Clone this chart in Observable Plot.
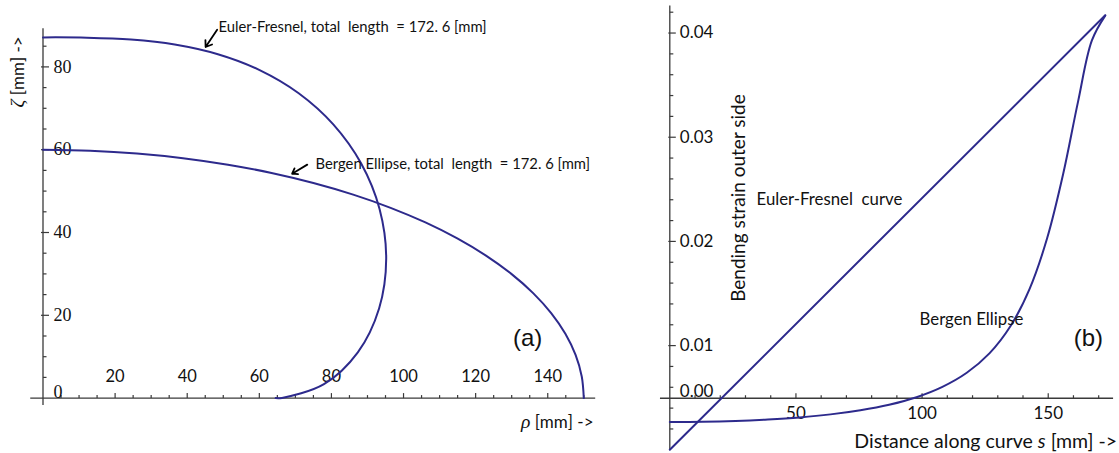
<!DOCTYPE html>
<html><head><meta charset="utf-8">
<script src="https://cdn.jsdelivr.net/npm/d3@7"></script>
<script src="https://cdn.jsdelivr.net/npm/@observablehq/plot@0.6"></script>
<style>
body{margin:0;background:#fff;}
#wrap{position:relative;width:1119px;height:453px;overflow:hidden;background:#fff;}
#pa{position:absolute;left:0;top:0;}
#pb{position:absolute;left:620px;top:0;}
svg text{white-space:pre;}
</style></head><body><div id="wrap"><div id="pa"></div><div id="pb"></div></div>
<script>
// ---------- Panel (a): curve shapes ----------
const eulerRho  = [0, 12.20, 24.40, 36.54, 48.51, 60.09, 70.92, 80.51, 88.22, 93.35, 95.19, 93.22, 87.32, 77.93, 66.28, 64.54];
const eulerZeta = [87.13, 87.07, 86.62, 85.41, 83.06, 79.23, 73.64, 66.12, 56.71, 45.66, 33.64, 21.65, 11.05, 3.36, 0.05, 0];
const bergenRho  = [0, 13.07, 26.05, 38.82, 51.30, 63.39, 75.0, 86.04, 96.42, 106.07, 114.91, 122.87, 129.90, 135.95, 140.95, 144.89, 147.72, 149.43, 150];
const bergenZeta = [60, 59.77, 59.09, 57.96, 56.38, 54.38, 51.96, 49.15, 45.96, 42.43, 38.57, 34.41, 30.0, 25.36, 20.52, 15.53, 10.42, 5.23, 0];

const xMajorA = [20, 40, 60, 80, 100, 120, 140];
const xMajorLabelsA = ["20", "40", "60", "80", "100", "120", "140"];
const xMinorA = [5, 10, 15, 25, 30, 35, 45, 50, 55, 65, 70, 75, 85, 90, 95, 105, 110, 115, 125, 130, 135, 145, 150];
const yMajorA = [20, 40, 60, 80];
const yMajorLabelsA = ["20", "40", "60", "80"];
const yMinorA = [5, 10, 15, 25, 30, 35, 45, 50, 55, 65, 70, 75, 85];
const xAxisExtentA = [-3.4, 153.3];
const yAxisExtentA = [-1.8, 89.2];

const annTextA = ["Euler-Fresnel, total  length  = 172. 6 [mm]", "Bergen Ellipse, total  length  = 172. 6 [mm]"];
const annXA = [48.7, 75.6];
const annYA = [89.6, 56.4];
const arrowX1A = [48.3, 73.3];
const arrowY1A = [89.0, 56.4];
const arrowX2A = [45.1, 69.1];
const arrowY2A = [84.8, 54.2];

// ---------- Panel (b): bending strain vs arc length ----------
const eulerS = [0, 172.6];
const eulerStrain = [0, 0.0417];
const bergenS = [0, 13.07, 26.06, 38.87, 51.45, 63.70, 75.55, 86.93, 97.79, 108.06, 117.71, 126.69, 135.00, 142.62, 149.59, 155.96, 161.82, 167.31, 172.60];
const bergenStrain = [0.00267, 0.00269, 0.00277, 0.00291, 0.00311, 0.00340, 0.00380, 0.00433, 0.00505, 0.00604, 0.00739, 0.00925, 0.01185, 0.01545, 0.02032, 0.02651, 0.03342, 0.03929, 0.04167];

const xMajorB = [50, 100, 150];
const xMajorLabelsB = ["50", "100", "150"];
const xMinorB = [10, 20, 30, 40, 60, 70, 80, 90, 110, 120, 130, 140, 160, 170];
const yMajorB = [0.01, 0.02, 0.03, 0.04];
const yMajorLabelsB = ["0.01", "0.02", "0.03", "0.04"];
const yMinorB = [0.002, 0.004, 0.006, 0.008, 0.012, 0.014, 0.016, 0.018, 0.022, 0.024, 0.026, 0.028, 0.032, 0.034, 0.036, 0.038, 0.042];
const xAxisLevelB = 0.00495;
const xAxisLabelB = "0.00";
const xAxisExtentB = [-3.7, 175.9];
const yAxisExtentB = [0, 0.0426];

const annTextB = ["Euler-Fresnel  curve", "Bergen Ellipse"];
const annXB = [34.4, 99.0];
const annYB = [0.0240, 0.0125];

// ---------- styling ----------
const axisColor = "#3a3a3a";
const curveColor = "#2d2a8c";
const sans = "Lato, 'Open Sans', sans-serif";
const serif = "'Liberation Serif', 'DejaVu Serif', serif";
const seg = (x1, y1, x2, y2) => ({draw(ctx) { ctx.moveTo(x1, y1); ctx.lineTo(x2, y2); }});
const tickStyle = {stroke: axisColor, fill: "none", strokeWidth: 1.2};

function italicParts(svg) {
  d3.select(svg).selectAll("text").each(function() {
    const t = this.textContent;
    if (!t.includes("|")) return;
    const parts = t.split("|");
    const sel = d3.select(this);
    sel.text(null);
    parts.forEach((p, i) => {
      const ts = sel.append("tspan").text(p);
      if (i % 2) {
        ts.attr("font-style", "italic");
        if (/[ρζ]/.test(p)) ts.attr("font-family", serif).attr("font-size", "1.15em");
      }
    });
  });
}

// ---------- Panel (a) ----------
const dataEulerA = eulerRho.map((x, i) => ({x, y: eulerZeta[i]}));
const dataBergenA = bergenRho.map((x, i) => ({x, y: bergenZeta[i]}));
const annA = annTextA.map((t, i) => ({t, x: annXA[i], y: annYA[i], x1: arrowX1A[i], y1: arrowY1A[i], x2: arrowX2A[i], y2: arrowY2A[i]}));

const plotA = Plot.plot({
  width: 620, height: 453,
  marginLeft: 42.5, marginRight: 36.7, marginTop: 25, marginBottom: 55.4,
  x: {domain: [0, 150], axis: null},
  y: {domain: [0, 90], axis: null},
  style: {fontFamily: sans, background: "white"},
  marks: [
    Plot.ruleY([0], {x1: () => xAxisExtentA[0], x2: () => xAxisExtentA[1], stroke: axisColor, strokeWidth: 1.3}),
    Plot.ruleX([0], {y1: () => yAxisExtentA[0], y2: () => yAxisExtentA[1], stroke: axisColor, strokeWidth: 1.3}),
    Plot.dot(xMajorA, {x: d => d, y: () => 0, symbol: seg(0, 0, 0, -5), ...tickStyle}),
    Plot.dot(xMinorA, {x: d => d, y: () => 0, symbol: seg(0, 0, 0, -3), ...tickStyle}),
    Plot.dot(yMajorA, {x: () => 0, y: d => d, symbol: seg(-2, 0, 6, 0), ...tickStyle}),
    Plot.dot(yMinorA, {x: () => 0, y: d => d, symbol: seg(0, 0, 3.5, 0), ...tickStyle}),
    Plot.text(xMajorA, {x: d => d, y: () => 0, text: (d, i) => xMajorLabelsA[i], dy: -21, fontSize: 16.5, fill: "#111", fontFamily: sans}),
    Plot.text(yMajorA, {x: () => 0, y: d => d, text: (d, i) => yMajorLabelsA[i], dx: 10.5, textAnchor: "start", fontSize: 18, fill: "#111", fontFamily: serif}),
    Plot.text(["0"], {x: () => 0, y: () => 0, text: d => d, dx: 10.5, dy: -6, textAnchor: "start", fontSize: 18, fill: "#111", fontFamily: serif}),
    Plot.line(dataEulerA, {x: "x", y: "y", curve: "catmull-rom", stroke: curveColor, strokeWidth: 2}),
    Plot.line(dataBergenA, {x: "x", y: "y", curve: "catmull-rom", stroke: curveColor, strokeWidth: 2}),
    Plot.arrow(annA, {x1: "x1", y1: "y1", x2: "x2", y2: "y2", stroke: "#000", strokeWidth: 1.8, headLength: 9, headAngle: 70}),
    Plot.text(annA, {x: "x", y: "y", text: "t", textAnchor: "start", fontSize: 14.8, fill: "#111", fontFamily: sans}),
    Plot.text(["(a)"], {x: () => 134.4, y: () => 14.4, text: d => d, fontSize: 24, fill: "#111", fontFamily: "'Liberation Sans', sans-serif"}),
    Plot.text(["|ρ| [mm] ->"], {x: () => 152.7, y: () => -5.8, text: d => d, textAnchor: "end", fontSize: 17, fill: "#111", fontFamily: sans}),
    Plot.text(["|ζ| [mm] ->"], {x: () => -6.8, y: () => 70.2, text: d => d, rotate: -90, textAnchor: "start", fontSize: 17, fill: "#111", fontFamily: sans})
  ]
});
italicParts(plotA);
document.getElementById("pa").appendChild(plotA);

// ---------- Panel (b) ----------
const dataEulerB = eulerS.map((x, i) => ({x, y: eulerStrain[i]}));
const dataBergenB = bergenS.map((x, i) => ({x, y: bergenStrain[i]}));
const annB = annTextB.map((t, i) => ({t, x: annXB[i], y: annYB[i]}));

const plotB = Plot.plot({
  width: 499, height: 453,
  marginLeft: 49.3, marginRight: 8.2, marginTop: 11.7, marginBottom: 3.7,
  x: {domain: [0, 175], axis: null},
  y: {domain: [0, 0.042], axis: null},
  style: {fontFamily: sans, background: "white"},
  marks: [
    Plot.ruleY([xAxisLevelB], {x1: () => xAxisExtentB[0], x2: () => xAxisExtentB[1], stroke: axisColor, strokeWidth: 1.3}),
    Plot.ruleX([0], {y1: () => yAxisExtentB[0], y2: () => yAxisExtentB[1], stroke: axisColor, strokeWidth: 1.3}),
    Plot.dot(xMajorB, {x: d => d, y: () => xAxisLevelB, symbol: seg(0, 0, 0, -5), ...tickStyle}),
    Plot.dot(xMinorB, {x: d => d, y: () => xAxisLevelB, symbol: seg(0, 0, 0, -3), ...tickStyle}),
    Plot.dot(yMajorB, {x: () => 0, y: d => d, symbol: seg(-1.5, 0, 6, 0), ...tickStyle}),
    Plot.dot(yMinorB, {x: () => 0, y: d => d, symbol: seg(0, 0, 3.5, 0), ...tickStyle}),
    Plot.text(xMajorB, {x: d => d, y: () => xAxisLevelB, text: (d, i) => xMajorLabelsB[i], dy: 15, fontSize: 17, fill: "#111", fontFamily: sans}),
    Plot.text(yMajorB, {x: () => 0, y: d => d, text: (d, i) => yMajorLabelsB[i], dx: 10, textAnchor: "start", fontSize: 17, fill: "#111", fontFamily: sans}),
    Plot.text([xAxisLabelB], {x: () => 0, y: () => xAxisLevelB, text: d => d, dx: 10, dy: -6.5, textAnchor: "start", fontSize: 17, fill: "#111", fontFamily: sans}),
    Plot.line(dataEulerB, {x: "x", y: "y", stroke: curveColor, strokeWidth: 2}),
    Plot.line(dataBergenB, {x: "x", y: "y", curve: "catmull-rom", stroke: curveColor, strokeWidth: 2}),
    Plot.text(annB, {x: "x", y: "y", text: "t", textAnchor: "start", fontSize: 16.8, fill: "#111", fontFamily: sans}),
    Plot.text(["(b)"], {x: () => 165.9, y: () => 0.01069, text: d => d, fontSize: 24, fill: "#111", fontFamily: "'Liberation Sans', sans-serif"}),
    Plot.text(["Bending strain outer side"], {x: () => 27.2, y: () => 0.02416, text: d => d, rotate: -90, fontSize: 19, fill: "#111", fontFamily: sans}),
    Plot.text(["Distance along curve |s| [mm] ->"], {x: () => 177.3, y: () => 0.00073, text: d => d, textAnchor: "end", fontSize: 19.5, fill: "#111", fontFamily: sans})
  ]
});
italicParts(plotB);
document.getElementById("pb").appendChild(plotB);
</script></body></html>
